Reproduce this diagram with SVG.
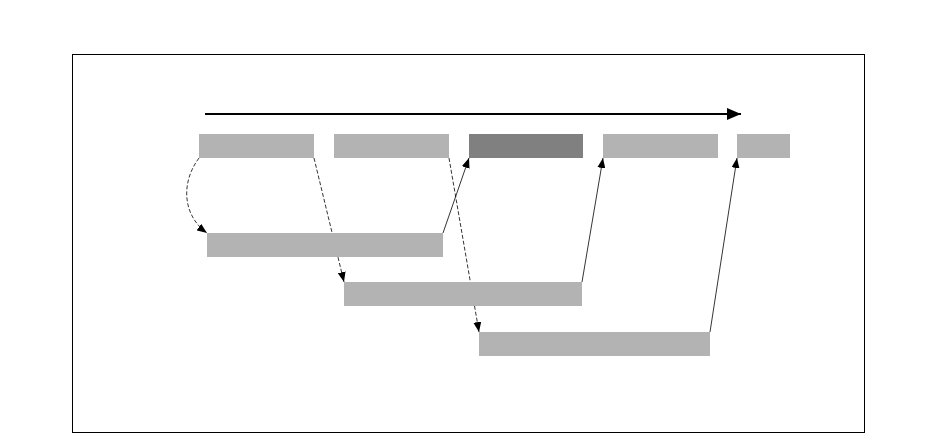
<svg xmlns="http://www.w3.org/2000/svg" width="937" height="433" viewBox="0 0 937 433">
<style>
.box{fill:#b3b3b3}
.dark{fill:#808080}
.c{fill:none;stroke:#000;stroke-width:0.8}
.d{stroke-dasharray:4 2}
</style>
<defs>
<marker id="ah" markerWidth="10" markerHeight="8" refX="10" refY="4" orient="auto" markerUnits="userSpaceOnUse">
<path d="M0,0 L10,4 L0,8 Z" fill="#000"/>
</marker>
<marker id="big" markerWidth="14" markerHeight="12" refX="14" refY="6" orient="auto" markerUnits="userSpaceOnUse">
<path d="M0,0 L14,6 L0,12 Z" fill="#000"/>
</marker>
</defs>
<rect x="0" y="0" width="937" height="433" fill="#fff"/>
<rect x="72.5" y="54.5" width="792" height="378" fill="none" stroke="#000" stroke-width="1"/>
<line x1="205" y1="114" x2="741" y2="114" stroke="#000" stroke-width="2" marker-end="url(#big)"/>
<g id="connectors">
<path class="c d" d="M199,158 C181,182 182,215 207,233" marker-end="url(#ah)"/>
<path class="c d" d="M314,158 L344,282" marker-end="url(#ah)"/>
<path class="c d" d="M449,158 L479,332" marker-end="url(#ah)"/>
<path class="c" d="M443,233 L469,158" marker-end="url(#ah)"/>
<path class="c" d="M582,282 L603,158" marker-end="url(#ah)"/>
<path class="c" d="M710,332 L737,158" marker-end="url(#ah)"/>
</g>
<g id="t1"><rect class="box" x="199" y="134" width="115" height="24"/></g>
<g id="t2"><rect class="box" x="334" y="134" width="115" height="24"/></g>
<g id="t3"><rect class="dark" x="469" y="134" width="114" height="24"/></g>
<g id="t4"><rect class="box" x="603" y="134" width="115" height="24"/></g>
<g id="t5"><rect class="box" x="737" y="134" width="53" height="24"/></g>
<g id="r1"><rect class="box" x="207" y="233" width="236" height="24"/></g>
<g id="r2"><rect class="box" x="344" y="282" width="238" height="24"/></g>
<g id="r3"><rect class="box" x="479" y="332" width="231" height="24"/></g>
</svg>
